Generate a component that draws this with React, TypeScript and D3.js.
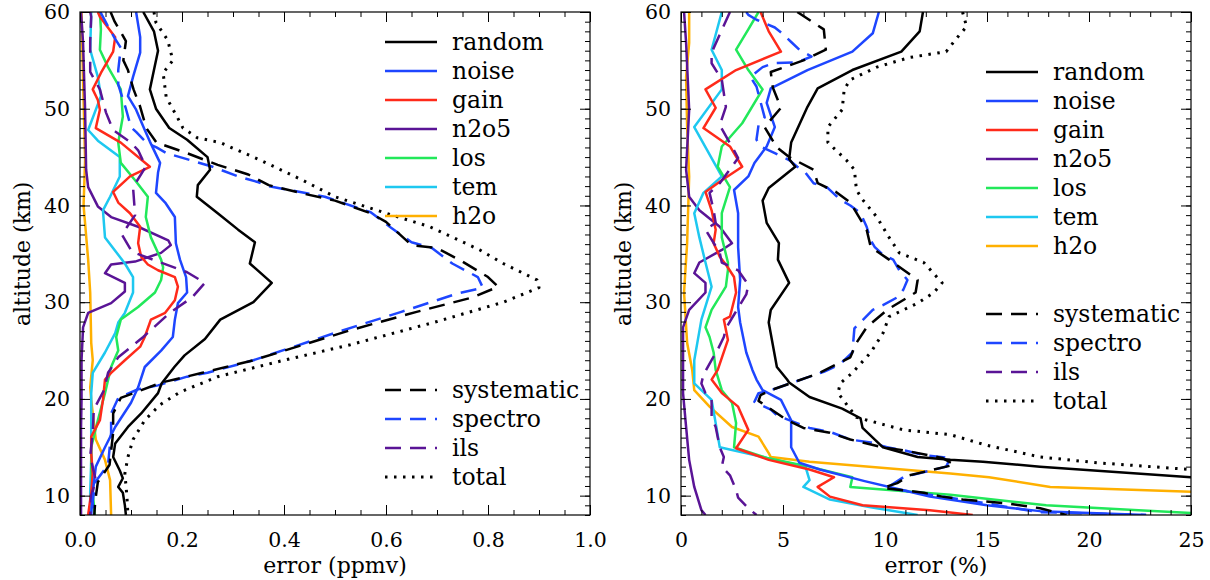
import React, { useEffect, useRef } from "react";
import * as d3 from "d3";

// each point is [altitude km, error]
const altTicks = [10, 20, 30, 40, 50, 60];
const ppmvTicks = [0, 0.2, 0.4, 0.6, 0.8, 1.0];
const pctTicks = [0, 5, 10, 15, 20, 25];

// ---- left panel, ppmv ----
const lRandom = [[60,0.124],[58,0.145],[56,0.153],[54,0.145],[52,0.137],[50,0.149],[48,0.175],[46.8,0.21],[45,0.25],[43.7,0.255],[42.1,0.231],[40.9,0.229],[39.2,0.27],[37.5,0.31],[36.2,0.343],[34,0.333],[32,0.376],[30,0.34],[28.2,0.275],[26.2,0.245],[24.5,0.205],[23.3,0.185],[21.6,0.16],[20.6,0.153],[18.5,0.12],[17.1,0.094],[15.4,0.069],[14,0.065],[12.6,0.078],[11.8,0.084],[10.9,0.075],[10.3,0.084],[9,0.088],[8,0.09]];
const lNoise = [[60,0.11],[57.4,0.118],[55.8,0.118],[53.3,0.104],[51.3,0.094],[49.9,0.11],[47.8,0.127],[46.6,0.137],[44.4,0.157],[43.4,0.153],[41.3,0.149],[40.3,0.167],[38.8,0.186],[36.1,0.188],[34.4,0.196],[32.6,0.208],[31,0.21],[29.9,0.192],[28.2,0.186],[26.4,0.182],[25,0.159],[23.3,0.127],[21.2,0.114],[19.6,0.1],[17.1,0.069],[15,0.049],[13,0.031],[10.3,0.025],[8,0.022]];
const lGain = [[60,0.035],[59.5,0.039],[57.4,0.069],[55.9,0.065],[53.7,0.041],[52,0.025],[50.9,0.035],[49.9,0.039],[48,0.031],[46.5,0.08],[44,0.137],[43,0.098],[41.4,0.065],[40.3,0.075],[39.2,0.098],[37.8,0.118],[36.1,0.114],[34.7,0.12],[33.9,0.133],[33.3,0.153],[32.6,0.186],[31.6,0.192],[30.2,0.186],[28.9,0.167],[28.2,0.139],[26.4,0.127],[25.4,0.118],[24,0.088],[22.7,0.061],[22,0.049],[19.9,0.045],[17.8,0.039],[16.1,0.022],[14.4,0.022],[12.3,0.025],[10.3,0.022],[8,0.016]];
const lN2o5 = [[60,0.002],[56.8,0.006],[49.9,0.01],[43.7,0.012],[41.9,0.016],[39.9,0.035],[38.8,0.061],[37.8,0.114],[36.4,0.173],[35.9,0.178],[35.1,0.159],[34.2,0.108],[33.9,0.061],[33,0.049],[32,0.088],[31.1,0.088],[29.9,0.061],[28.9,0.016],[27.4,0.006],[24,0.003],[20,0.003],[17,0.002],[8,0.002]];
const lLos = [[60,0.039],[58.2,0.041],[56.1,0.039],[54.3,0.055],[52,0.08],[49.2,0.084],[46.5,0.075],[44.4,0.08],[42.6,0.108],[40.9,0.133],[38.8,0.129],[36.7,0.139],[34.4,0.159],[33.6,0.163],[32.3,0.159],[31,0.147],[29.5,0.114],[28.2,0.08],[26.4,0.071],[25,0.075],[23.3,0.061],[20.6,0.049],[17.8,0.035],[15,0.022],[13,0.022],[10.3,0.025],[8,0.029]];
const lTem = [[60,0.022],[56.1,0.02],[53.3,0.035],[51.3,0.041],[47.8,0.016],[46.7,0.035],[45,0.078],[43,0.078],[40.9,0.059],[39.5,0.045],[36.7,0.049],[34,0.088],[32.6,0.104],[31,0.104],[28.9,0.088],[27.9,0.075],[26.8,0.069],[24.8,0.049],[22.7,0.025],[20.6,0.022],[13.7,0.022],[10.3,0.02],[8,0.02]];
const lH2o = [[60,0.003],[53,0.006],[44.7,0.01],[40,0.007],[34.4,0.016],[31,0.02],[25.8,0.022],[24,0.025],[21.2,0.02],[19.9,0.022],[15.8,0.031],[13.7,0.049],[11.6,0.059],[8,0.061]];
const lSystematic = [[60,0.06],[59,0.068],[57,0.09],[55,0.085],[54,0.094],[52,0.105],[50.2,0.118],[48,0.13],[46.5,0.15],[45.4,0.21],[44.2,0.27],[43.2,0.33],[42.1,0.37],[41.2,0.44],[40.5,0.5],[39.2,0.57],[38.3,0.6],[35.9,0.65],[35.6,0.7],[34.2,0.75],[32.6,0.8],[31.6,0.82],[30.5,0.77],[29,0.66],[27.1,0.53],[24,0.34],[22.7,0.24],[21.7,0.16],[20.7,0.11],[20.1,0.08],[18.5,0.065],[16.5,0.065],[13.2,0.058],[11.4,0.035],[9.5,0.03],[8,0.028]];
const lSpectro = [[60,0.04],[58.5,0.055],[57.3,0.068],[56.3,0.08],[54,0.075],[52.5,0.075],[50,0.09],[48.1,0.1],[47.6,0.11],[46.5,0.13],[46,0.15],[45.4,0.17],[44,0.26],[43,0.31],[42.4,0.35],[42,0.37],[40.9,0.48],[39.3,0.57],[37.7,0.61],[36.2,0.65],[35.6,0.69],[34,0.73],[32.6,0.78],[31.5,0.79],[30.9,0.74],[29,0.63],[27,0.51],[24,0.34],[22.7,0.25],[22.3,0.21],[21.4,0.153],[21,0.114],[20.1,0.075],[18.5,0.061],[16.5,0.061],[13.2,0.055],[11.4,0.03],[9.5,0.025],[8,0.025]];
const lIls = [[60,0.02],[59.5,0.022],[57,0.02],[53.8,0.02],[52,0.039],[49.6,0.051],[47.8,0.065],[46.5,0.1],[45.7,0.114],[44,0.129],[41.9,0.104],[39,0.108],[37,0.082],[35.2,0.102],[33.1,0.21],[32,0.245],[30.5,0.22],[28.9,0.176],[26.4,0.124],[24.3,0.075],[22.7,0.055],[20.9,0.047],[18.9,0.027],[16.5,0.025],[14.1,0.02],[11.6,0.031],[10,0.022],[8,0.02]];
const lTotal = [[60,0.145],[58.9,0.149],[57.1,0.172],[55,0.182],[53.7,0.163],[51.2,0.169],[49.2,0.19],[48,0.202],[47,0.23],[46.5,0.275],[44.7,0.353],[42.6,0.437],[40.9,0.5],[39.2,0.6],[37.8,0.686],[35.4,0.784],[34,0.83],[32.3,0.896],[31.5,0.9],[30,0.83],[28,0.7],[25.6,0.53],[24,0.4],[22.3,0.27],[20.7,0.196],[19.4,0.157],[17.8,0.127],[15.8,0.104],[14,0.094],[12.3,0.088],[9.9,0.092],[8,0.094]];

// ---- right panel, percent ----
const rRandom = [[60,11.86],[58,11.7],[55.9,10.8],[54,8.4],[52.1,6.7],[50.2,6.2],[46.5,5.4],[44.8,5.3],[44,5.6],[41.8,4.3],[40.5,4.0],[38.2,4.2],[36.1,4.8],[34.4,4.75],[32,5.3],[29.2,4.4],[27.9,4.3],[23.3,4.7],[22,5.2],[21.7,5.3],[20.2,6.3],[19,7.9],[18,8.8],[17,8.9],[15,9.9],[14,11.6],[13.7,13.2],[13.5,14.8],[13,17.6],[11.9,25],[11.5,27]];
const rNoise = [[60,9.7],[57.8,9.4],[55.9,8.4],[54,6.2],[52.1,4.4],[50.6,4.2],[48.1,4.6],[46.1,4.2],[44.4,3.6],[43,3.3],[41.6,2.6],[39.2,2.8],[35.7,2.8],[32.3,2.9],[29.5,2.8],[27.9,2.9],[24.8,3.2],[23,3.5],[22,3.7],[20.9,4.0],[19.9,4.9],[17.8,5.4],[15,5.4],[13.4,5.8],[12.7,6.8],[11.5,9],[10.5,11],[9.9,12.2],[9,15],[8.4,17.6],[8,22.8]];
const rGain = [[60,3.9],[58,4.3],[55.9,4.9],[54,2.7],[52,1.2],[50.1,1.7],[48,1.1],[46.1,2.4],[44,3.0],[42.6,2.0],[41.4,1.2],[39.5,1.5],[37.5,1.7],[36.1,1.6],[34.7,1.9],[33.9,2.2],[32.6,2.6],[31,2.7],[28.5,2.4],[28.2,2.1],[26.1,2.3],[23,1.8],[22,1.5],[20.6,2.0],[19.2,2.8],[16.8,3.3],[14.9,2.7],[13.7,4.3],[12.7,6.3],[11.9,7.5],[10.9,6.7],[9.9,7.3],[9,8.9],[8.5,12.2],[8,14.3]];
const rN2o5 = [[60,0.15],[56.8,0.25],[49.9,0.4],[43.7,0.25],[40.9,0.4],[39.5,0.9],[37.8,1.9],[36.1,2.5],[35.4,2.0],[34.1,0.9],[33,0.65],[32,1.2],[31,1.2],[29.2,0.4],[27.4,0.1],[20.6,0.1],[17.1,0.25],[13.7,0.4],[10.9,0.65],[8.5,1.0],[8,1.2]];
const rLos = [[60,3.8],[58.2,3.3],[56.1,2.7],[54,3.3],[52,4.0],[48.5,3.0],[46.1,2.0],[44,1.8],[41.9,2.4],[39.2,2.0],[36.7,2.0],[34.1,2.3],[33.3,2.3],[31.6,2.2],[29.2,1.5],[27.4,1.2],[26.4,1.4],[24.8,1.6],[23,1.7],[20.9,2.0],[19.6,2.5],[17.5,2.7],[15,2.6],[13.9,4.2],[13,6.3],[11.9,8.4],[10.9,8.3],[10.1,13.2],[9,17.9],[8.2,25],[8,27]];
const rTem = [[60,2.0],[56.1,1.5],[54,2.0],[52,2.0],[48.1,0.65],[43,2.0],[41.3,1.1],[39.2,0.65],[36.7,0.9],[34.1,1.2],[31.6,1.5],[28.2,1.0],[24,0.65],[21.6,0.65],[19.9,1.5],[17.5,1.7],[15,1.9],[13,6.1],[11.6,6.3],[10.9,6.0],[9.6,7.3],[8.8,9.3],[8,11.6]];
const rH2o = [[60,0.4],[56.8,0.4],[53.3,0.25],[48.1,0.3],[43,0.4],[36.1,0.3],[31,0.15],[25.8,0.3],[23,0.55],[20.9,0.65],[19.2,1.4],[17.1,2.5],[16.1,3.8],[14.4,4.3],[14,4.4],[13.5,6.3],[12.3,13.2],[11.9,15.1],[10.9,18.1],[10.4,25],[10.3,27]];
const rSystematic = [[60,5.7],[58.2,7.0],[56.1,7.1],[55,6.0],[53.8,4.4],[52.2,4.5],[50.1,4.9],[48.1,4.1],[46,4.7],[45,5.3],[43.7,6.5],[42.3,6.7],[41.4,7.6],[40.3,8.3],[37.5,9.1],[35.7,9.3],[34.4,10.2],[32.3,11.6],[31,11.5],[29.2,10.1],[27.4,9.1],[25.8,8.6],[24.3,8.3],[22.7,6.8],[22.3,6.3],[20.9,4.4],[20.4,3.9],[19.8,3.8],[17.8,5.2],[17,6.0],[16.5,7.3],[15.8,8.3],[15,9.9],[14.7,10.9],[13.9,12.8],[13.2,13.4],[12.1,11.2],[11.3,10.6],[10.8,9.9],[10.3,11.9],[9.9,12.8],[9.6,13.8],[9.2,16],[8.7,17.6],[8,18.9]];
const rSpectro = [[60,3.2],[59.7,3.3],[59.2,3.7],[58.4,4.6],[57.8,4.95],[56.9,5.4],[56.1,5.8],[55.4,6.4],[54.8,5.7],[54.7,4.5],[54.3,4.0],[53.3,3.4],[52.3,3.7],[49.1,4.1],[48.3,3.8],[46.8,3.7],[46.1,3.9],[45.4,4.6],[44.7,5.3],[44,5.7],[43.4,6.1],[42.3,6.5],[41.8,7.2],[40.6,7.8],[40,8.3],[39.2,8.8],[37.8,9.1],[36.4,9.3],[35.7,9.5],[34.9,9.9],[34.4,10.4],[33.3,10.7],[32.3,11.1],[31.3,10.9],[30.5,10.6],[29.7,9.9],[29.2,9.4],[27.3,8.5],[24.8,8.4],[23.8,7.9],[23.3,7.5],[22.8,7.0],[22.3,6.3],[20.9,4.4],[20.6,3.8],[19.7,3.6],[18.9,4.4],[18.3,4.7],[17.8,5.3],[17,6.3],[16.6,7.3],[15.8,8.3],[15.5,9.3],[15,10.1],[14.7,10.9],[14.2,11.9],[13.9,13.2],[13,13.0],[11.9,10.9],[10.8,10.1],[10.1,12.2],[9.3,14.7],[8.3,17.5],[8,22.8]];
const rIls = [[60,2.4],[55.8,1.5],[54.7,1.5],[53,2.0],[50.2,2.2],[48.3,1.9],[45.7,2.6],[44.9,2.8],[42.3,1.9],[41.3,1.4],[39.5,1.6],[38.2,1.7],[37.5,1.2],[35.1,1.9],[34.1,2.0],[33.3,2.8],[31.8,3.3],[30.8,3.2],[29.4,2.8],[28.7,2.6],[27.3,2.2],[26.4,2.1],[25.1,1.8],[24,1.5],[22.5,1.1],[21.6,1.0],[20.6,1.2],[19.9,1.5],[18.1,1.5],[17.1,1.7],[15,1.9],[14,2.1],[13,2.0],[12.1,2.4],[10.6,2.7],[9.8,2.8],[8.7,3.3],[8,3.7]];
const rTotal = [[60,13.8],[58.5,14],[57,13.4],[55.9,13.0],[55.3,11.2],[54.3,9.6],[53,8.3],[52,8.0],[49.9,7.9],[48.1,7.2],[46.5,7.2],[44.7,8.1],[43.7,8.5],[41.6,8.6],[40.6,8.9],[38.8,9.6],[36.7,10.2],[35.1,10.7],[34.1,11.9],[32,12.8],[31,12.4],[29.9,11.6],[28.5,10.2],[26.8,9.9],[24.8,9.3],[22.7,8.4],[21.6,7.8],[20.6,7.7],[18.1,8.6],[16.8,10.9],[16.3,13.2],[15.2,15],[14,17.6],[13.4,20.4],[12.7,25],[12.5,27]];

const FONT = "'DejaVu Serif', serif";
const BLUE = "#1e46ff";
const PURPLE = "#5a1496";
const DASH = "16,9";
const DOT = "2.5,6.5";

const styles = {
  random: { color: "#000", dash: null },
  noise: { color: BLUE, dash: null },
  gain: { color: "#ff2a1a", dash: null },
  n2o5: { color: PURPLE, dash: null },
  los: { color: "#22e85a", dash: null },
  tem: { color: "#1ec8f0", dash: null },
  h2o: { color: "#ffb000", dash: null },
  systematic: { color: "#000", dash: DASH },
  spectro: { color: BLUE, dash: DASH },
  ils: { color: PURPLE, dash: DASH },
  total: { color: "#000", dash: DOT },
};

const legendTop = ["random", "noise", "gain", "n2o5", "los", "tem", "h2o"];
const legendBottom = ["systematic", "spectro", "ils", "total"];

function Axes({ x, y, major, minor, fmt }) {
  const ref = useRef(null);
  useEffect(() => {
    const g = d3.select(ref.current);
    g.selectAll("*").remove();
    const [x0, x1] = x.range();
    const [yb, yt] = y.range();
    const tidy = (sel) => {
      sel.select(".domain").remove();
      sel.selectAll("line").attr("stroke", "#000").attr("stroke-width", 1);
      sel.selectAll("text").attr("font-family", FONT).attr("font-size", 20.5).attr("fill", "#000");
    };
    const altMinor = d3.range(8, 61, 1);
    const none = () => "";
    g.append("g").attr("transform", `translate(0,${yb})`)
      .call(d3.axisBottom(x).tickValues(minor).tickSize(-5).tickFormat(none)).call(tidy);
    g.append("g").attr("transform", `translate(0,${yb})`)
      .call(d3.axisBottom(x).tickValues(major).tickSize(-10).tickPadding(17).tickFormat(fmt)).call(tidy);
    g.append("g").attr("transform", `translate(0,${yt})`)
      .call(d3.axisTop(x).tickValues(minor).tickSize(-5).tickFormat(none)).call(tidy);
    g.append("g").attr("transform", `translate(0,${yt})`)
      .call(d3.axisTop(x).tickValues(major).tickSize(-10).tickFormat(none)).call(tidy);
    g.append("g").attr("transform", `translate(${x0},0)`)
      .call(d3.axisLeft(y).tickValues(altMinor).tickSize(-5).tickFormat(none)).call(tidy);
    g.append("g").attr("transform", `translate(${x0},0)`)
      .call(d3.axisLeft(y).tickValues(altTicks).tickSize(-10).tickPadding(10).tickFormat(d3.format("d"))).call(tidy);
    g.append("g").attr("transform", `translate(${x1},0)`)
      .call(d3.axisRight(y).tickValues(altMinor).tickSize(-5).tickFormat(none)).call(tidy);
    g.append("g").attr("transform", `translate(${x1},0)`)
      .call(d3.axisRight(y).tickValues(altTicks).tickSize(-10).tickFormat(none)).call(tidy);
  }, [x, y]);
  return <g ref={ref} />;
}

function Panel({ id, x0, domain, major, minor, fmt, series, title, legX, legY1, legY2 }) {
  const x = d3.scaleLinear().domain(domain).range([x0, x0 + 510]);
  const y = d3.scaleLinear().domain([8, 60]).range([515, 12]);
  const line = d3.line().x((d) => x(d[1])).y((d) => y(d[0]));
  const [px0, px1] = x.range();
  const legendRow = (name, yy) => (
    <g key={name}>
      <line x1={legX} x2={legX + 52} y1={yy} y2={yy} stroke={styles[name].color}
        strokeWidth={name === "total" ? 3 : 2.5} strokeDasharray={styles[name].dash || undefined} />
      <text x={legX + 67} y={yy + 8} fontFamily={FONT} fontSize={23.5}>{name}</text>
    </g>
  );
  return (
    <g>
      <defs>
        <clipPath id={id}>
          <rect x={px0} y={12} width={px1 - px0} height={503} />
        </clipPath>
      </defs>
      <g clipPath={`url(#${id})`}>
        {Object.keys(series).map((k) => (
          <path key={k} d={line(series[k])} fill="none" stroke={styles[k].color}
            strokeWidth={k === "total" ? 3 : 2.5} strokeDasharray={styles[k].dash || undefined}
            strokeLinejoin="round" />
        ))}
      </g>
      <rect x={px0} y={12} width={px1 - px0} height={503} fill="none" stroke="#000" strokeWidth={1.2} />
      <Axes x={x} y={y} major={major} minor={minor} fmt={fmt} />
      {legendTop.map((n, i) => legendRow(n, legY1 + i * 29))}
      {legendBottom.map((n, i) => legendRow(n, legY2 + i * 29))}
      <text x={(px0 + px1) / 2} y={573} textAnchor="middle" fontFamily={FONT} fontSize={22}>{title}</text>
      <text transform={`translate(${px0 - 50},${y(35)}) rotate(-90)`} textAnchor="middle"
        fontFamily={FONT} fontSize={22}>altitude (km)</text>
    </g>
  );
}

export default function App() {
  const left = { h2o: lH2o, n2o5: lN2o5, tem: lTem, los: lLos, gain: lGain, noise: lNoise, ils: lIls,
    spectro: lSpectro, systematic: lSystematic, random: lRandom, total: lTotal };
  const right = { h2o: rH2o, n2o5: rN2o5, tem: rTem, los: rLos, gain: rGain, noise: rNoise, ils: rIls,
    spectro: rSpectro, systematic: rSystematic, random: rRandom, total: rTotal };
  return (
    <svg width={1210} height={580} style={{ position: "absolute", left: 0, top: 0, background: "#fff" }}>
      <Panel id="clipL" x0={80} domain={[0, 1]} major={ppmvTicks} minor={d3.range(0, 1.001, 0.05)}
        fmt={d3.format(".1f")} series={left} title="error (ppmv)" legX={385} legY1={42} legY2={390} />
      <Panel id="clipR" x0={681} domain={[0, 25]} major={pctTicks} minor={d3.range(0, 25.5, 1)}
        fmt={d3.format("d")} series={right} title="error (%)" legX={986} legY1={72} legY2={314} />
    </svg>
  );
}
